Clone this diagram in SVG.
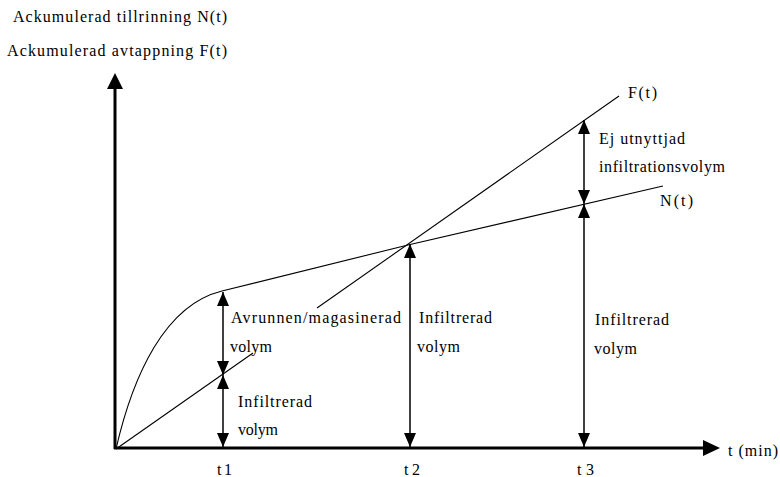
<svg xmlns="http://www.w3.org/2000/svg" width="780" height="477" viewBox="0 0 780 477">
<style>
text{font-family:"Liberation Serif","Times New Roman",serif;font-size:16px;fill:#000}
.axis{stroke:#000;stroke-width:3;fill:none}
.curve{stroke:#000;stroke-width:1.1;fill:none}
.dim{stroke:#000;stroke-width:1.5;fill:none;marker-start:url(#ah);marker-end:url(#ah)}
</style>
<defs>
<marker id="ah" viewBox="0 0 14 12" refX="14" refY="6" markerWidth="14" markerHeight="12" markerUnits="userSpaceOnUse" orient="auto-start-reverse">
<path d="M0,0 L14,6 L0,12 z" fill="#000"/>
</marker>
</defs>
<rect width="780" height="477" fill="#fff"/>
<g id="axes">
<line class="axis" x1="115" y1="449" x2="115" y2="86"/>
<polygon points="115,73 107,89 123,89" fill="#000"/>
<line class="axis" x1="114" y1="448" x2="705" y2="448"/>
<polygon points="720,448 703,440 703,456" fill="#000"/>
</g>
<g id="connectors">
<path id="curve-N" class="curve" d="M116,449 C133,375 165,305 222,291 C265,280 330,264 408,245 L663,186"/>
<g id="curve-F">
<line class="curve" x1="116" y1="449" x2="253" y2="353"/>
<line class="curve" x1="317" y1="308" x2="619" y2="96"/>
</g>
<line class="dim" x1="223" y1="292" x2="223" y2="375"/>
<line class="dim" x1="223" y1="375" x2="223" y2="447"/>
<line class="dim" x1="410" y1="244" x2="410" y2="447"/>
<line class="dim" x1="584" y1="120" x2="584" y2="204"/>
<line class="dim" x1="584" y1="204" x2="584" y2="447"/>
</g>
<g id="label-y">
<text x="13" y="22" textLength="214" lengthAdjust="spacing">Ackumulerad tillrinning N(t)</text>
<text x="7" y="56" textLength="220" lengthAdjust="spacing">Ackumulerad avtappning F(t)</text>
</g>
<g id="label-F"><text x="628" y="98" textLength="29" lengthAdjust="spacing">F(t)</text></g>
<g id="label-N"><text x="660" y="206" textLength="33" lengthAdjust="spacing">N(t)</text></g>
<g id="label-ej">
<text x="599" y="144" textLength="86" lengthAdjust="spacing">Ej utnyttjad</text>
<text x="599" y="172" textLength="126" lengthAdjust="spacing">infiltrationsvolym</text>
</g>
<g id="label-avrunnen">
<text x="231" y="323" textLength="170" lengthAdjust="spacing">Avrunnen/magasinerad</text>
<text x="230" y="352" textLength="42" lengthAdjust="spacing">volym</text>
</g>
<g id="label-inf1">
<text x="238" y="407" textLength="74" lengthAdjust="spacing">Infiltrerad</text>
<text x="238" y="435" textLength="40" lengthAdjust="spacing">volym</text>
</g>
<g id="label-inf2">
<text x="419" y="323" textLength="73" lengthAdjust="spacing">Infiltrerad</text>
<text x="417" y="352" textLength="43" lengthAdjust="spacing">volym</text>
</g>
<g id="label-inf3">
<text x="595" y="325" textLength="74" lengthAdjust="spacing">Infiltrerad</text>
<text x="594" y="354" textLength="43" lengthAdjust="spacing">volym</text>
</g>
<g id="ticks">
<text x="217" y="475" textLength="15" lengthAdjust="spacing">t1</text>
<text x="404" y="475" textLength="16" lengthAdjust="spacing">t2</text>
<text x="577" y="475" textLength="17" lengthAdjust="spacing">t3</text>
</g>
<g id="label-x"><text x="728" y="456" textLength="50" lengthAdjust="spacing">t (min)</text></g>
</svg>
